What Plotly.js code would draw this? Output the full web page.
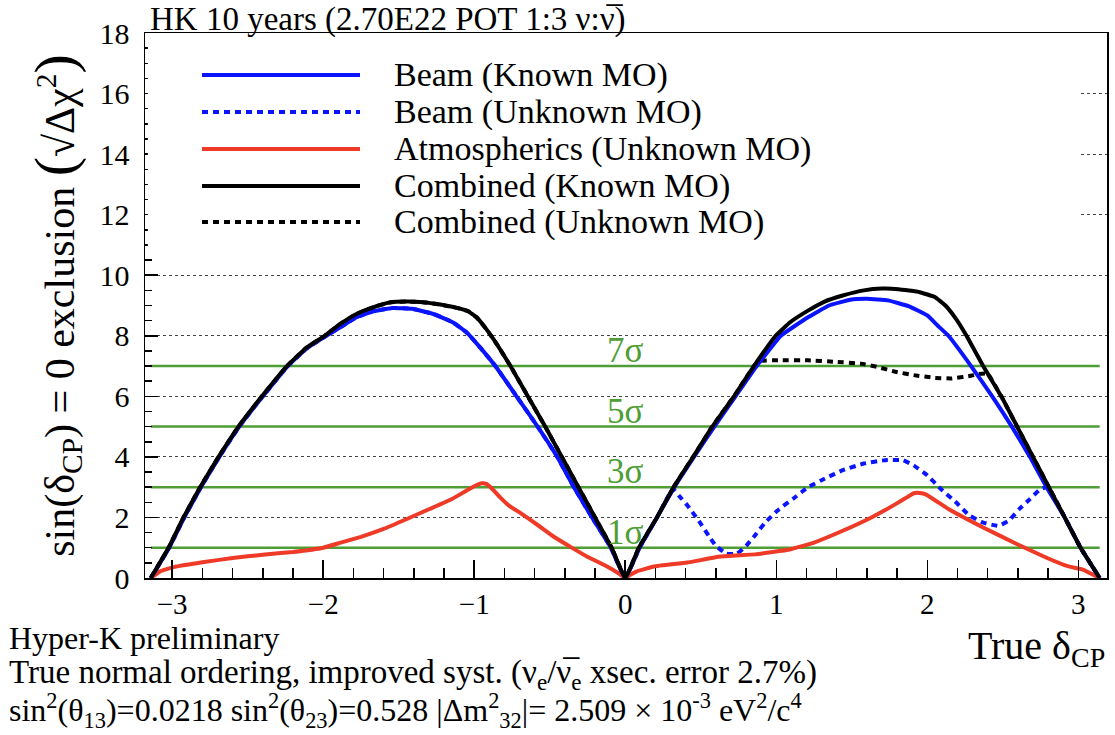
<!DOCTYPE html>
<html>
<head>
<meta charset="utf-8">
<script src="https://cdn.plot.ly/plotly-3.0.1.min.js"></script>
<style>html,body{margin:0;padding:0;background:#fff;}#chart{width:1115px;height:735px;}</style>
</head>
<body>
<div id="chart"></div>
<script>
// ---- data ----
const deltaDomain = [-3.1416, 3.1416];
const xTickVals = [-3, -2, -1, 0, 1, 2, 3];
const sigmaLevels = [1, 3, 5, 7];
const sigmaLabels = ['1σ', '3σ', '5σ', '7σ'];

const beamKnownX = [-3.1416, -3.02, -2.92, -2.81, -2.688, -2.556, -2.40, -2.235, -2.11, -1.98, -1.887, -1.78, -1.67, -1.54, -1.41, -1.27, -1.14, -1.05, -0.96, -0.86, -0.72, -0.58, -0.45, -0.34, -0.22, -0.095, 0.0,
  0.095, 0.21, 0.325, 0.455, 0.59, 0.73, 0.87, 1.03, 1.21, 1.35, 1.49, 1.60, 1.74, 1.88, 2.0, 2.07, 2.14, 2.29, 2.43, 2.56, 2.68, 2.79, 2.91, 3.015, 3.1416];
const beamKnownY = [0, 1, 2, 3, 4, 5, 6, 7, 7.58, 8.0, 8.28, 8.61, 8.81, 8.92, 8.89, 8.72, 8.44, 8.11, 7.61, 7, 6, 5, 4, 3, 2, 1, 0,
  1, 2, 3, 4, 5, 6, 7, 8, 8.61, 9.0, 9.19, 9.22, 9.17, 8.97, 8.67, 8.33, 8, 7, 6, 5, 4, 3, 2, 1, 0];

const beamUnknownX = [-3.1416, -3.02, -2.92, -2.81, -2.688, -2.556, -2.40, -2.235, -2.11, -1.98, -1.887, -1.78, -1.67, -1.54, -1.41, -1.27, -1.14, -1.05, -0.96, -0.86, -0.72, -0.58, -0.45, -0.34, -0.22, -0.095, 0.0,
  0.095, 0.21, 0.315, 0.355, 0.413, 0.495, 0.553, 0.60, 0.67, 0.74, 0.80, 0.856, 0.926, 1.02, 1.11, 1.21, 1.32, 1.44, 1.58, 1.72, 1.84, 1.91, 2.0, 2.09, 2.19, 2.28, 2.37, 2.47, 2.54, 2.61, 2.68, 2.75, 2.80, 2.91, 3.015, 3.1416];
const beamUnknownY = [0, 1, 2, 3, 4, 5, 6, 7, 7.58, 8.0, 8.28, 8.61, 8.81, 8.92, 8.89, 8.72, 8.44, 8.11, 7.61, 7, 6, 5, 4, 3, 2, 1, 0,
  1, 2, 2.95, 2.72, 2.39, 1.83, 1.39, 1.06, 0.8, 0.8, 1.06, 1.39, 1.83, 2.28, 2.61, 3.0, 3.28, 3.56, 3.78, 3.89, 3.89, 3.72, 3.39, 2.94, 2.5, 2.06, 1.83, 1.72, 1.89, 2.28, 2.61, 2.94, 3.0, 2, 1, 0];

const atmX = [-3.1416, -3.08, -2.99, -2.80, -2.60, -2.40, -2.20, -2.0, -1.89, -1.75, -1.60, -1.45, -1.30, -1.15, -1.05, -0.98, -0.95, -0.92, -0.88, -0.83, -0.77, -0.695, -0.58, -0.475, -0.36, -0.254, -0.12, -0.04, 0.0,
  0.03, 0.077, 0.19, 0.41, 0.63, 0.86, 1.09, 1.25, 1.44, 1.63, 1.79, 1.87, 1.91, 1.95, 1.99, 2.14, 2.37, 2.61, 2.79, 2.93, 3.03, 3.1416];
const atmY = [0, 0.22, 0.36, 0.52, 0.66, 0.77, 0.86, 1.0, 1.16, 1.36, 1.62, 1.94, 2.27, 2.6, 2.89, 3.08, 3.13, 3.11, 2.94, 2.67, 2.39, 2.15, 1.75, 1.37, 1.02, 0.71, 0.38, 0.14, 0,
  0.1, 0.22, 0.38, 0.51, 0.71, 0.78, 0.94, 1.17, 1.56, 2.0, 2.44, 2.68, 2.80, 2.81, 2.76, 2.28, 1.67, 1.08, 0.67, 0.39, 0.28, 0];

const combKnownX = [-3.1416, -3.024, -2.925, -2.815, -2.693, -2.561, -2.406, -2.24, -2.11, -1.99, -1.887, -1.78, -1.67, -1.56, -1.45, -1.34, -1.225, -1.115, -1.04, -0.985, -0.92, -0.85, -0.76, -0.645, -0.53, -0.42, -0.31, -0.20, -0.09, 0.0,
  0.09, 0.21, 0.32, 0.45, 0.576, 0.72, 0.852, 0.996, 1.09, 1.21, 1.32, 1.44, 1.58, 1.70, 1.81, 1.95, 2.05, 2.12, 2.19, 2.26, 2.37, 2.49, 2.595, 2.70, 2.805, 2.91, 3.015, 3.1416];
const combKnownY = [0, 1, 2, 3, 4, 5, 6, 7, 7.61, 8, 8.39, 8.72, 8.94, 9.1, 9.13, 9.11, 9.03, 8.92, 8.81, 8.61, 8.22, 7.72, 7, 6, 5, 4, 3, 2, 1, 0,
  1, 2, 3, 4, 5, 6, 7, 8, 8.44, 8.83, 9.13, 9.33, 9.5, 9.56, 9.54, 9.44, 9.28, 9.0, 8.56, 8.0, 7, 6, 5, 4, 3, 2, 1, 0];

const combUnknownX = [-3.1416, -3.024, -2.925, -2.815, -2.693, -2.561, -2.406, -2.24, -2.11, -1.99, -1.887, -1.78, -1.67, -1.56, -1.45, -1.34, -1.225, -1.115, -1.04, -0.985, -0.92, -0.85, -0.76, -0.645, -0.53, -0.42, -0.31, -0.20, -0.09, 0.0,
  0.09, 0.21, 0.32, 0.45, 0.576, 0.72, 0.852, 0.89, 1.02, 1.21, 1.39, 1.56, 1.67, 1.79, 1.91, 2.05, 2.16, 2.28, 2.34, 2.40, 2.49, 2.595, 2.70, 2.805, 2.91, 3.015, 3.1416];
const combUnknownY = [0, 1, 2, 3, 4, 5, 6, 7, 7.61, 8, 8.39, 8.72, 8.94, 9.1, 9.13, 9.11, 9.03, 8.92, 8.81, 8.61, 8.22, 7.72, 7, 6, 5, 4, 3, 2, 1, 0,
  1, 2, 3, 4, 5, 6, 7, 7.17, 7.19, 7.19, 7.14, 7.08, 6.97, 6.81, 6.70, 6.61, 6.59, 6.67, 6.74, 6.75, 6, 5, 4, 3, 2, 1, 0];

const legendNames = ['Beam (Known MO)', 'Beam (Unknown MO)', 'Atmospherics (Unknown MO)', 'Combined (Known MO)', 'Combined (Unknown MO)'];

// ---- styles ----
const BLUE = '#0a14ff', RED = '#ee3a26', BLACK = '#000000', GREEN = '#4f9e35';
const FONT = 'Liberation Serif, Times New Roman, serif';
const DOTS = '6px,5px';
const LW = 4;

const series = [
  {name: legendNames[0], x: beamKnownX, y: beamKnownY, color: BLUE, dash: 'solid'},
  {name: legendNames[1], x: beamUnknownX, y: beamUnknownY, color: BLUE, dash: DOTS},
  {name: legendNames[2], x: atmX, y: atmY, color: RED, dash: 'solid'},
  {name: legendNames[3], x: combKnownX, y: combKnownY, color: BLACK, dash: 'solid'},
  {name: legendNames[4], x: combUnknownX, y: combUnknownY, color: BLACK, dash: DOTS}
];

const traces = [];
sigmaLevels.forEach((lv, i) => {
  traces.push({x: deltaDomain, y: [lv, lv], mode: 'lines', showlegend: false, hoverinfo: 'skip',
    name: sigmaLabels[i], line: {color: GREEN, width: 2.5}});
});
const drawOrder = [1, 4, 2, 0, 3];
drawOrder.forEach(i => {
  const s = series[i];
  traces.push({x: s.x, y: s.y, mode: 'lines', name: s.name, showlegend: false,
    line: {color: s.color, width: LW, dash: s.dash, shape: 'spline', smoothing: 0.3}});
});

// custom legend (long line samples like the reference)
const PW = 962, PH = 545;
const legRowsPx = [75, 112, 149, 186, 222];
const shapes = [{type: 'rect', xref: 'paper', yref: 'paper', layer: 'above',
  x0: 0.003, x1: (1080 - 145) / PW, y0: (578 - 252) / PH, y1: (578 - 45) / PH,
  fillcolor: '#ffffff', line: {width: 0}}];
const annotations = [];
series.forEach((s, i) => {
  const yp = (578 - legRowsPx[i]) / PH;
  shapes.push({type: 'line', xref: 'paper', yref: 'paper', layer: 'above', x0: (202 - 145) / PW, x1: (360 - 145) / PW,
    y0: yp, y1: yp, line: {color: s.color, width: LW, dash: s.dash}});
  annotations.push({xref: 'paper', yref: 'paper', x: (392 - 145) / PW, y: yp, xanchor: 'left', yanchor: 'middle',
    text: s.name, showarrow: false, font: {family: FONT, size: 34, color: '#000'}});
});
sigmaLevels.forEach((lv, i) => {
  annotations.push({x: 0, y: lv, xref: 'x', yref: 'y', xanchor: 'center', yanchor: 'bottom', yshift: -6,
    text: sigmaLabels[i], showarrow: false, font: {family: FONT, size: 35, color: GREEN}});
});
annotations.push({xref: 'paper', yref: 'paper', x: (1107 - 145) / PW, y: (578 - 648) / PH, xanchor: 'right', yanchor: 'middle',
  text: 'True δ<sub>CP</sub>', showarrow: false, font: {family: FONT, size: 40, color: '#000'}});
const infoLines = [
  'Hyper-K preliminary',
  'True normal ordering, improved syst. (ν<sub>e</sub>/ν\u0305<sub>e</sub> xsec. error 2.7%)',
  'sin<sup>2</sup>(θ<sub>13</sub>)=0.0218 sin<sup>2</sup>(θ<sub>23</sub>)=0.528 |Δm<sup>2</sup><sub>32</sub>|= 2.509 × 10<sup>-3</sup> eV<sup>2</sup>/c<sup>4</sup>'
];
const infoYPx = [638, 674, 710];
const infoSizes = [32, 33, 32];
infoLines.forEach((t, i) => {
  annotations.push({xref: 'paper', yref: 'paper', x: (7 - 145) / PW, y: (578 - infoYPx[i]) / PH, xanchor: 'left', yanchor: 'middle',
    text: t, showarrow: false, font: {family: FONT, size: infoSizes[i], color: '#000'}});
});

const layout = {
  width: 1115, height: 735,
  margin: {l: 145, r: 8, t: 33, b: 157},
  paper_bgcolor: '#ffffff', plot_bgcolor: '#ffffff',
  showlegend: false,
  font: {family: FONT, color: '#000'},
  title: {text: 'HK 10 years (2.70E22 POT 1:3 ν:ν\u0305)', xref: 'container', yref: 'container',
    x: 150 / 1115, xanchor: 'left', y: 1 - 18 / 735, yanchor: 'middle',
    font: {family: FONT, size: 33, color: '#000'}},
  xaxis: {range: [-3.18, 3.19], tickvals: xTickVals, ticks: 'inside', ticklen: 18, tickwidth: 1.5, tickcolor: '#000',
    minor: {dtick: 0.2, tick0: 0, ticks: 'inside', ticklen: 10, tickwidth: 1.5, tickcolor: '#000', showgrid: false},
    showline: true, mirror: true, linecolor: '#000', linewidth: 1.5, showgrid: false, zeroline: false,
    tickfont: {family: FONT, size: 29, color: '#000'}, ticklabelstandoff: 0},
  yaxis: {range: [0, 18], dtick: 2, tick0: 0, ticks: 'inside', ticklen: 13, tickwidth: 1.5, tickcolor: '#000',
    minor: {dtick: 0.5, ticks: 'inside', ticklen: 7, tickwidth: 1.5, tickcolor: '#000', showgrid: false},
    showline: true, mirror: true, linecolor: '#000', linewidth: 1.5,
    showgrid: true, gridcolor: '#444', gridwidth: 1, griddash: 'dot', zeroline: false,
    tickfont: {family: FONT, size: 30, color: '#000'}, ticklabelstandoff: 8,
    title: {text: 'sin(δ<sub>CP</sub>) = 0 exclusion <span style="font-size:58px">(</span>√Δχ<sup>2</sup><span style="font-size:58px">)</span>',
      font: {family: FONT, size: 42, color: '#000'}, standoff: 12}},
  shapes: shapes,
  annotations: annotations
};

Plotly.newPlot('chart', traces, layout, {staticPlot: true, displayModeBar: false});
</script>
</body>
</html>
